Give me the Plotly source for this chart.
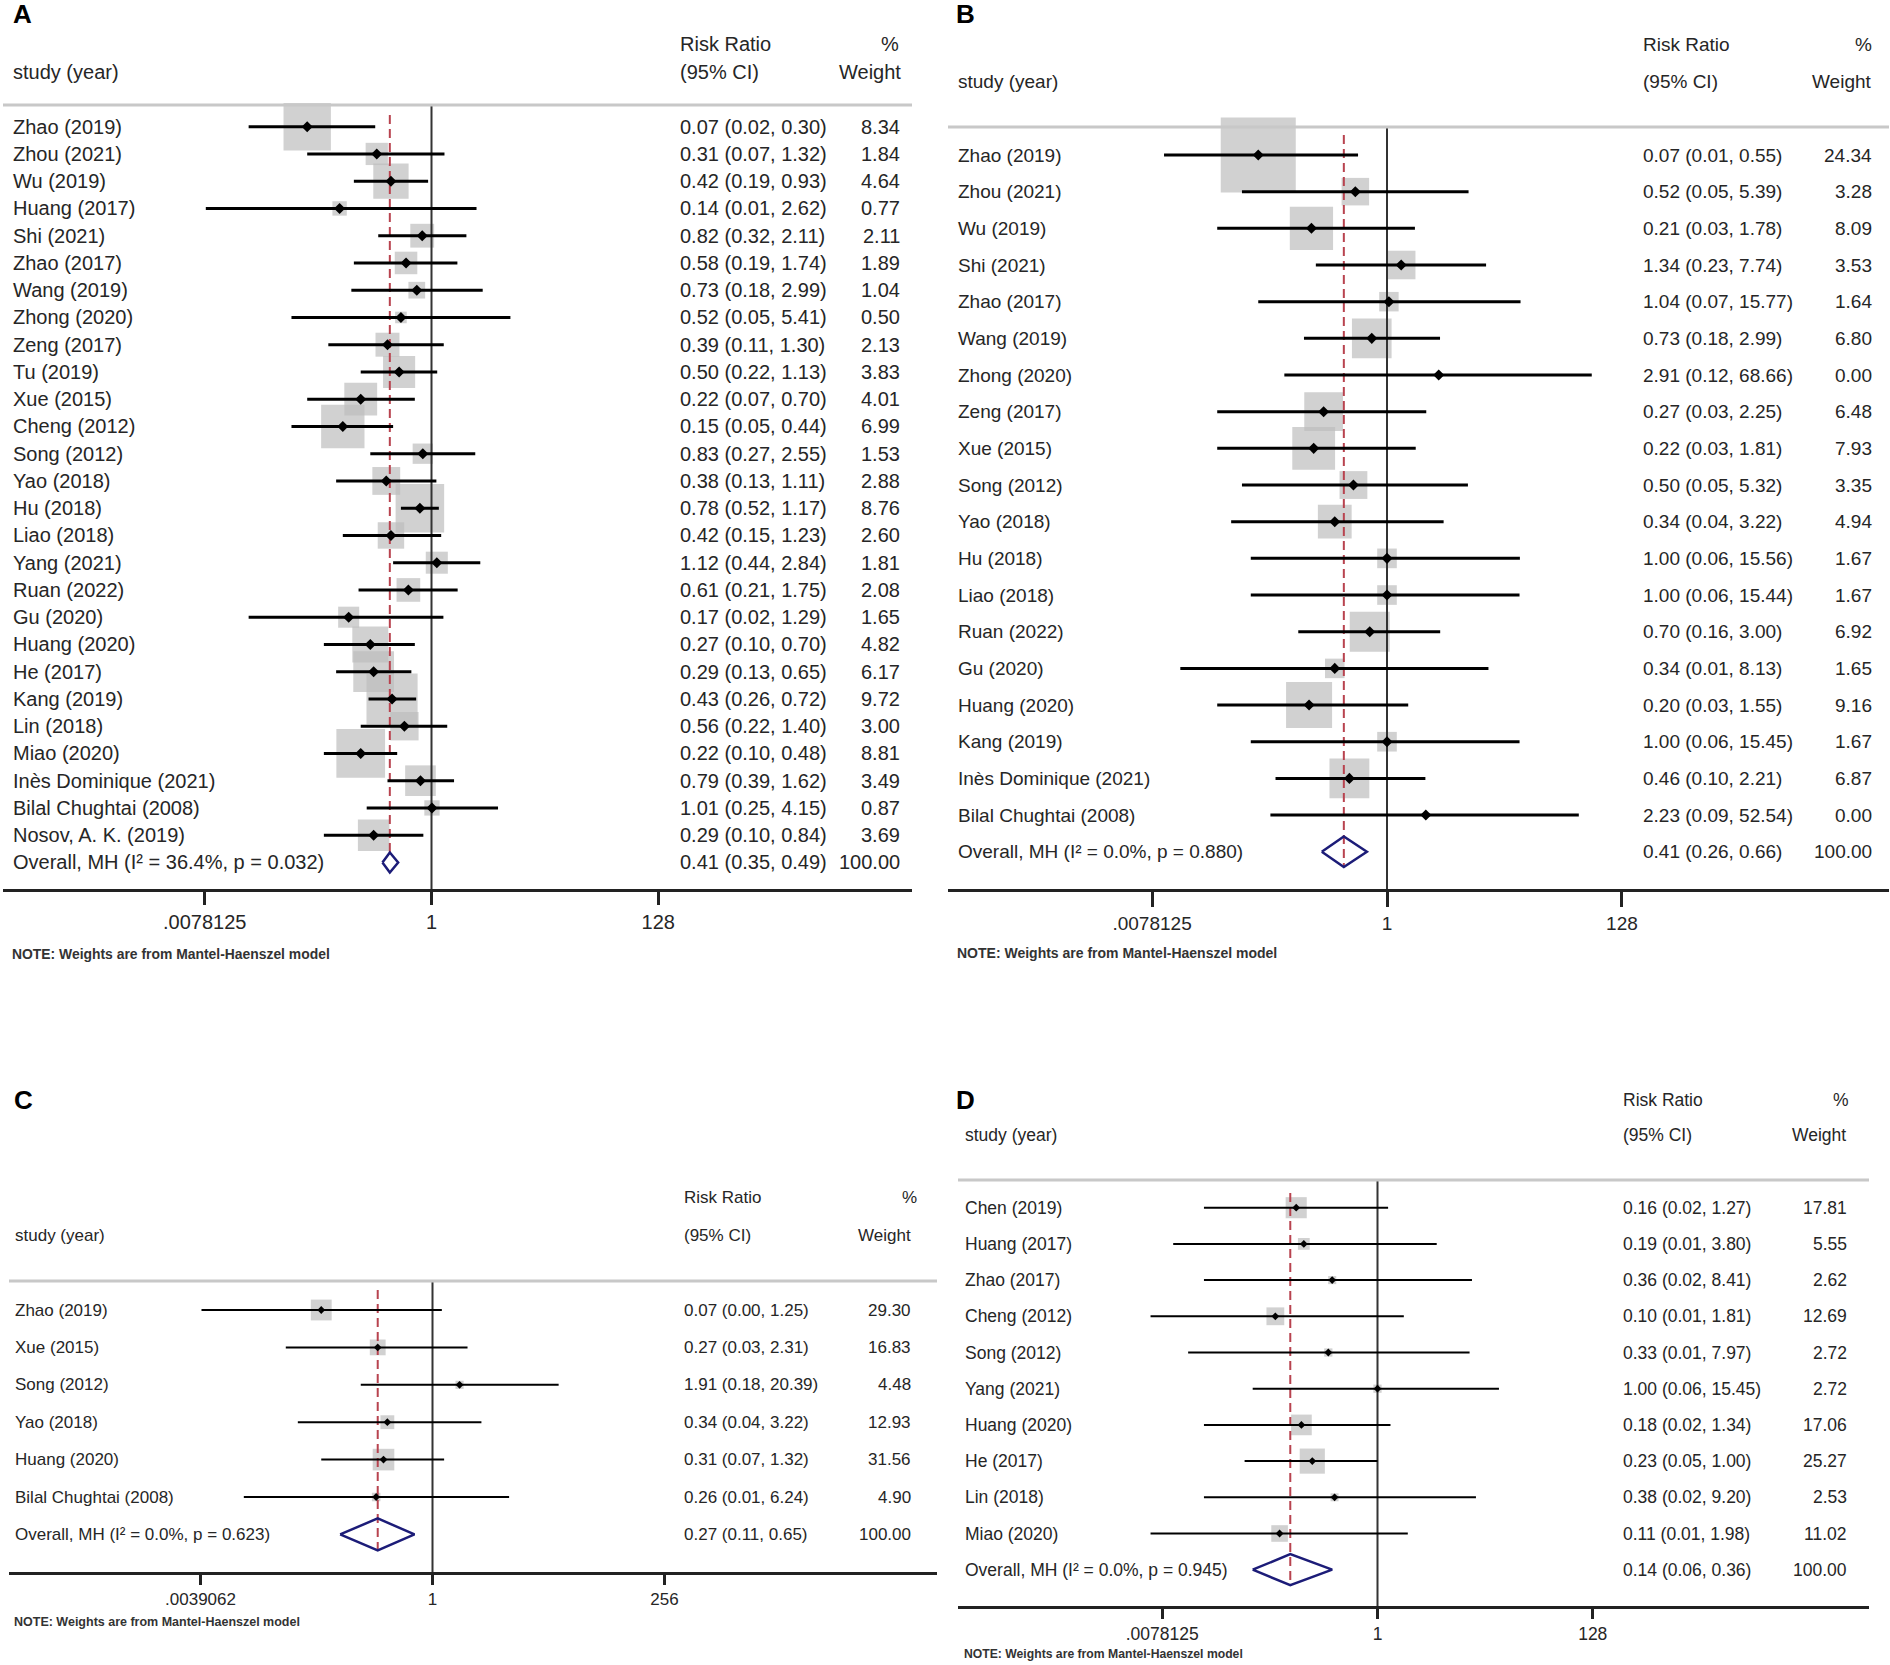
import math
import plotly.graph_objects as go

W, H = 1890, 1665
FONT = "Liberation Sans, Arial, sans-serif"
TXT = "#262626"
BOX = "#bdbdbd"
RED = "#b8434f"
NAVY = "#1c1c78"

# ---------------- DATA ----------------
# Panel A
a_study = ["Zhao (2019)", "Zhou (2021)", "Wu (2019)", "Huang (2017)", "Shi (2021)", "Zhao (2017)",
           "Wang (2019)", "Zhong (2020)", "Zeng (2017)", "Tu (2019)", "Xue (2015)", "Cheng (2012)",
           "Song (2012)", "Yao (2018)", "Hu (2018)", "Liao (2018)", "Yang (2021)", "Ruan (2022)",
           "Gu (2020)", "Huang (2020)", "He (2017)", "Kang (2019)", "Lin (2018)", "Miao (2020)",
           "Inès Dominique (2021)", "Bilal Chughtai (2008)", "Nosov, A. K. (2019)"]
a_rr = [0.07, 0.31, 0.42, 0.14, 0.82, 0.58, 0.73, 0.52, 0.39, 0.50, 0.22, 0.15, 0.83, 0.38, 0.78,
        0.42, 1.12, 0.61, 0.17, 0.27, 0.29, 0.43, 0.56, 0.22, 0.79, 1.01, 0.29]
a_lo = [0.02, 0.07, 0.19, 0.008, 0.32, 0.19, 0.18, 0.05, 0.11, 0.22, 0.07, 0.05, 0.27, 0.13, 0.52,
        0.15, 0.44, 0.21, 0.02, 0.10, 0.13, 0.26, 0.22, 0.10, 0.39, 0.25, 0.10]
a_hi = [0.30, 1.32, 0.93, 2.62, 2.11, 1.74, 2.99, 5.41, 1.30, 1.13, 0.70, 0.44, 2.55, 1.11, 1.17,
        1.23, 2.84, 1.75, 1.29, 0.70, 0.65, 0.72, 1.40, 0.48, 1.62, 4.15, 0.84]
a_wt = [8.34, 1.84, 4.64, 0.77, 2.11, 1.89, 1.04, 0.50, 2.13, 3.83, 4.01, 6.99, 1.53, 2.88, 8.76,
        2.60, 1.81, 2.08, 1.65, 4.82, 6.17, 9.72, 3.00, 8.81, 3.49, 0.87, 3.69]
a_overall = [0.41, 0.35, 0.49]
a_i2, a_p = "36.4%", "0.032"
a_tickvals = [0.0078125, 1, 128]
a_ticktext = [".0078125", "1", "128"]

# Panel B
b_study = ["Zhao (2019)", "Zhou (2021)", "Wu (2019)", "Shi (2021)", "Zhao (2017)", "Wang (2019)",
           "Zhong (2020)", "Zeng (2017)", "Xue (2015)", "Song (2012)", "Yao (2018)", "Hu (2018)",
           "Liao (2018)", "Ruan (2022)", "Gu (2020)", "Huang (2020)", "Kang (2019)",
           "Inès Dominique (2021)", "Bilal Chughtai (2008)"]
b_rr = [0.07, 0.52, 0.21, 1.34, 1.04, 0.73, 2.91, 0.27, 0.22, 0.50, 0.34, 1.00, 1.00, 0.70, 0.34,
        0.20, 1.00, 0.46, 2.23]
b_lo = [0.01, 0.05, 0.03, 0.23, 0.07, 0.18, 0.12, 0.03, 0.03, 0.05, 0.04, 0.06, 0.06, 0.16, 0.014,
        0.03, 0.06, 0.10, 0.09]
b_hi = [0.55, 5.39, 1.78, 7.74, 15.77, 2.99, 68.66, 2.25, 1.81, 5.32, 3.22, 15.56, 15.44, 3.00,
        8.13, 1.55, 15.45, 2.21, 52.54]
b_wt = [24.34, 3.28, 8.09, 3.53, 1.64, 6.80, 0.00, 6.48, 7.93, 3.35, 4.94, 1.67, 1.67, 6.92, 1.65,
        9.16, 1.67, 6.87, 0.00]
b_overall = [0.41, 0.26, 0.66]
b_i2, b_p = "0.0%", "0.880"
b_tickvals = [0.0078125, 1, 128]
b_ticktext = [".0078125", "1", "128"]

# Panel C
c_study = ["Zhao (2019)", "Xue (2015)", "Song (2012)", "Yao (2018)", "Huang (2020)",
           "Bilal Chughtai (2008)"]
c_rr = [0.07, 0.27, 1.91, 0.34, 0.31, 0.26]
c_lo = [0.004, 0.03, 0.18, 0.04, 0.07, 0.011]
c_hi = [1.25, 2.31, 20.39, 3.22, 1.32, 6.24]
c_wt = [29.30, 16.83, 4.48, 12.93, 31.56, 4.90]
c_overall = [0.27, 0.11, 0.65]
c_i2, c_p = "0.0%", "0.623"
c_tickvals = [0.00390625, 1, 256]
c_ticktext = [".0039062", "1", "256"]

# Panel D
d_study = ["Chen (2019)", "Huang (2017)", "Zhao (2017)", "Cheng (2012)", "Song (2012)",
           "Yang (2021)", "Huang (2020)", "He (2017)", "Lin (2018)", "Miao (2020)"]
d_rr = [0.16, 0.19, 0.36, 0.10, 0.33, 1.00, 0.18, 0.23, 0.38, 0.11]
d_lo = [0.02, 0.01, 0.02, 0.006, 0.014, 0.06, 0.02, 0.05, 0.02, 0.006]
d_hi = [1.27, 3.80, 8.41, 1.81, 7.97, 15.45, 1.34, 1.00, 9.20, 1.98]
d_wt = [17.81, 5.55, 2.62, 12.69, 2.72, 2.72, 17.06, 25.27, 2.53, 11.02]
d_overall = [0.14, 0.06, 0.36]
d_i2, d_p = "0.0%", "0.945"
d_tickvals = [0.0078125, 1, 128]
d_ticktext = [".0078125", "1", "128"]

header_rr = ["Risk Ratio", "(95% CI)"]
header_wt = ["%", "Weight"]
header_study = "study (year)"
note_text = "NOTE: Weights are from Mantel-Haenszel model"

# ---------------- LAYOUT / STYLE (pixels) ----------------
panels = [
    dict(letter="A", study=a_study, rr=a_rr, lo=a_lo, hi=a_hi, wt=a_wt, ov=a_overall, i2=a_i2, p=a_p,
         tv=a_tickvals, tt=a_ticktext,
         left=3, right=912, one=431.5, ppl=32.4, sep=105, axis=889.3, first=126.7, d=27.25,
         fs=20, lab_x=11, ci_x=678, wt_x=902, h1=44, h2=72, pct_x=901, wh_x=903,
         boxk=16.4, dot=8.5, ciw=3, dh=10, tl=13, tfs=20, note_y=954, note_x=10, note_fs=13.9,
         let_x=11, let_y=14.5, dtop=115, dend=-1),
    dict(letter="B", study=b_study, rr=b_rr, lo=b_lo, hi=b_hi, wt=b_wt, ov=b_overall, i2=b_i2, p=b_p,
         tv=b_tickvals, tt=b_ticktext,
         left=948, right=1889, one=1387, ppl=33.56, sep=127, axis=889, first=155, d=36.67,
         fs=19, lab_x=956, ci_x=1641, wt_x=1874, h1=45, h2=82, pct_x=1874, wh_x=1874,
         boxk=15.2, dot=8.5, ciw=3, dh=15.3, tl=15, tfs=19, note_y=953, note_x=955, note_fs=14,
         let_x=954, let_y=14.5, dtop=135, dend=1),
    dict(letter="C", study=c_study, rr=c_rr, lo=c_lo, hi=c_hi, wt=c_wt, ov=c_overall, i2=c_i2, p=c_p,
         tv=c_tickvals, tt=c_ticktext,
         left=9, right=937, one=432.5, ppl=29, sep=1281, axis=1572, first=1310, d=37.4,
         fs=17, lab_x=13, ci_x=682, wt_x=913, h1=1197, h2=1235, pct_x=919, wh_x=913,
         boxk=3.85, dot=6, ciw=2, dh=16, tl=10, tfs=17, note_y=1622, note_x=12, note_fs=12.5,
         let_x=12, let_y=1100, dtop=1290, dend=1),
    dict(letter="D", study=d_study, rr=d_rr, lo=d_lo, hi=d_hi, wt=d_wt, ov=d_overall, i2=d_i2, p=d_p,
         tv=d_tickvals, tt=d_ticktext,
         left=958, right=1869, one=1377.5, ppl=30.75, sep=1180, axis=1606, first=1207.7, d=36.2,
         fs=17.5, lab_x=963, ci_x=1621, wt_x=1849, h1=1100, h2=1135, pct_x=1851, wh_x=1848,
         boxk=5.0, dot=6, ciw=2, dh=15.5, tl=10, tfs=17.5, note_y=1654, note_x=962, note_fs=12.2,
         let_x=954, let_y=1100, dtop=1193, dend=1),
]

fig = go.Figure()
annotations = []
shapes = []
LOG2 = math.log10(2)


def ann(x, y, text, yref="paper", xanchor="left", size=18, bold=False, color=TXT):
    yy = (1 - y / H) if yref == "paper" else y
    f = dict(family=FONT, size=size, color=color)
    if bold:
        f["weight"] = "bold"
    return dict(x=x / W, xref="paper", y=yy, yref=yref, text=text, showarrow=False,
                xanchor=xanchor, yanchor="middle", font=f)


for k, P in enumerate(panels):
    sfx = "" if k == 0 else str(k + 1)
    xname, yname = "x" + sfx, "y" + sfx
    n = len(P["study"])
    ytop = (P["sep"] - P["first"]) / P["d"]
    ybot = (P["axis"] - P["first"]) / P["d"]
    rows = list(range(n))
    ov_row = n

    # boxes
    fig.add_trace(go.Scatter(
        x=P["rr"], y=rows, mode="markers", xaxis=xname, yaxis=yname, cliponaxis=False,
        marker=dict(symbol="square", color=BOX, line=dict(width=0),
                    size=[P["boxk"] * math.sqrt(w) for w in P["wt"]]),
        hoverinfo="skip"))
    # null line
    fig.add_trace(go.Scatter(x=[1, 1], y=[ytop, ybot], mode="lines", xaxis=xname, yaxis=yname,
                             line=dict(color="#333333", width=2), hoverinfo="skip", cliponaxis=False))
    # overall dashed line
    dh_rows = P["dh"] / P["d"]
    fig.add_trace(go.Scatter(x=[P["ov"][0], P["ov"][0]],
                             y=[(P["dtop"] - P["first"]) / P["d"], ov_row + P["dend"] * dh_rows],
                             mode="lines", xaxis=xname, yaxis=yname,
                             line=dict(color=RED, width=2, dash="9px,5px"), hoverinfo="skip"))
    # CI lines
    cx, cy = [], []
    for i in rows:
        cx += [P["lo"][i], P["hi"][i], None]
        cy += [i, i, None]
    fig.add_trace(go.Scatter(x=cx, y=cy, mode="lines", xaxis=xname, yaxis=yname,
                             line=dict(color="black", width=P["ciw"]), hoverinfo="skip"))
    # point estimates
    fig.add_trace(go.Scatter(x=P["rr"], y=rows, mode="markers", xaxis=xname, yaxis=yname,
                             cliponaxis=False,
                             marker=dict(symbol="diamond", color="black", size=P["dot"],
                                         line=dict(width=0)), hoverinfo="skip"))
    # overall diamond
    e, l, h = P["ov"]
    fig.add_trace(go.Scatter(x=[l, e, h, e, l], y=[ov_row, ov_row - dh_rows, ov_row, ov_row + dh_rows, ov_row],
                             mode="lines", xaxis=xname, yaxis=yname, cliponaxis=False,
                             line=dict(color=NAVY, width=2.5), hoverinfo="skip"))

    # axes
    fig.update_layout(**{
        ("xaxis" + sfx): dict(
            type="log", domain=[P["left"] / W, P["right"] / W], anchor=yname,
            range=[LOG2 * (P["left"] - P["one"]) / P["ppl"], LOG2 * (P["right"] - P["one"]) / P["ppl"]],
            tickvals=P["tv"], ticktext=P["tt"], ticks="outside", ticklen=P["tl"], tickwidth=2.5,
            tickcolor="#222222", showline=True, linecolor="#222222", linewidth=2.5,
            showgrid=False, zeroline=False, fixedrange=True,
            tickfont=dict(family=FONT, size=P["tfs"], color=TXT)),
        ("yaxis" + sfx): dict(
            domain=[1 - P["axis"] / H, 1 - P["sep"] / H], anchor=xname,
            range=[ybot, ytop], visible=False, showgrid=False, zeroline=False, fixedrange=True),
    })

    # separator line
    shapes.append(dict(type="line", xref="paper", yref="paper", x0=P["left"] / W, x1=P["right"] / W,
                       y0=1 - P["sep"] / H, y1=1 - P["sep"] / H, line=dict(color="#c8c8c8", width=3)))

    fs = P["fs"]
    # headers
    annotations.append(ann(P["let_x"], P["let_y"], P["letter"], size=26, bold=True, color="black"))
    annotations.append(ann(P["lab_x"], P["h2"], header_study, size=fs))
    annotations.append(ann(P["ci_x"], P["h1"], header_rr[0], size=fs))
    annotations.append(ann(P["ci_x"], P["h2"], header_rr[1], size=fs))
    annotations.append(ann(P["pct_x"], P["h1"], header_wt[0], size=fs, xanchor="right"))
    annotations.append(ann(P["wh_x"], P["h2"], header_wt[1], size=fs, xanchor="right"))
    # rows
    for i in rows:
        annotations.append(ann(P["lab_x"], i, P["study"][i], yref=yname, size=fs))
        annotations.append(ann(P["ci_x"], i, f"{P['rr'][i]:.2f} ({P['lo'][i]:.2f}, {P['hi'][i]:.2f})",
                               yref=yname, size=fs))
        annotations.append(ann(P["wt_x"], i, f"{P['wt'][i]:.2f}", yref=yname, size=fs, xanchor="right"))
    annotations.append(ann(P["lab_x"], ov_row,
                           f"Overall, MH (I² = {P['i2']}, p = {P['p']})", yref=yname, size=fs))
    annotations.append(ann(P["ci_x"], ov_row, f"{e:.2f} ({l:.2f}, {h:.2f})", yref=yname, size=fs))
    annotations.append(ann(P["wt_x"], ov_row, "100.00", yref=yname, size=fs, xanchor="right"))
    # note
    annotations.append(ann(P["note_x"], P["note_y"], note_text, size=P["note_fs"], bold=True,
                           color="#333333"))

fig.update_layout(width=W, height=H, margin=dict(l=0, r=0, t=0, b=0), showlegend=False,
                  paper_bgcolor="white", plot_bgcolor="white",
                  annotations=annotations, shapes=shapes)
fig.write_html("out.html", config={"displayModeBar": False},
               post_script="document.body.style.margin='0';")
